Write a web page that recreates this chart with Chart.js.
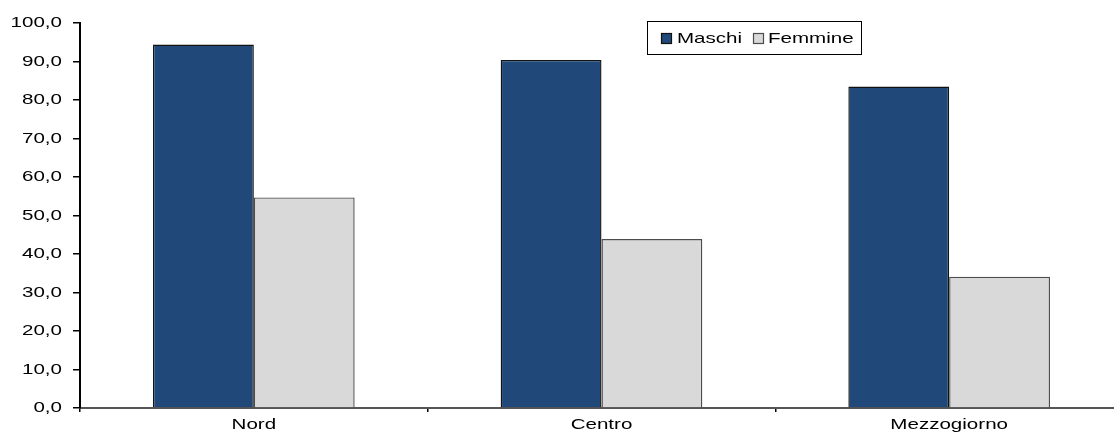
<!DOCTYPE html>
<html>
<head>
<meta charset="utf-8">
<script src="https://cdn.jsdelivr.net/npm/chart.js@4.4.1/dist/chart.umd.min.js"></script>
<style>
  html, body { margin: 0; padding: 0; background: #fff; }
  #wrap { width: 1114px; height: 432px; overflow: hidden; position: relative; }
  #c { display: block; }
</style>
</head>
<body>
<div id="wrap"><canvas id="c" width="1123" height="432"></canvas></div>
<script>
// Ripartizioni territoriali e valori per sesso
const categories = ['Nord', 'Centro', 'Mezzogiorno'];
const maschi = [94.4, 90.4, 83.5];
const femmine = [54.7, 43.9, 34.1];
const seriesNames = ['Maschi', 'Femmine'];
const yTicks = [0, 10, 20, 30, 40, 50, 60, 70, 80, 90, 100];

const FONT = "'Liberation Sans', Arial, sans-serif";
const TEXT_STRETCH = 1.37;

// text is drawn horizontally widened around its anchor point
const canvas = document.getElementById('c');
const ctx2d = canvas.getContext('2d');
const baseFillText = ctx2d.fillText.bind(ctx2d);
ctx2d.fillText = function (text, x, y, maxWidth) {
  this.save();
  this.translate(x, y);
  this.scale(TEXT_STRETCH, 1);
  if (maxWidth !== undefined) baseFillText(text, 0, 0, maxWidth);
  else baseFillText(text, 0, 0);
  this.restore();
};

// boxed legend inside the plot area
const boxLegend = {
  id: 'boxLegend',
  afterDraw(chart) {
    const ctx = chart.ctx;
    const ds = chart.data.datasets;
    ctx.save();
    ctx.lineWidth = 1;
    ctx.strokeStyle = '#000';
    ctx.strokeRect(647.5, 21.5, 214, 33);
    ctx.font = '15px ' + FONT;
    ctx.textBaseline = 'middle';
    const items = [
      { mx: 661, tx: 677 },
      { mx: 753, tx: 768 }
    ];
    items.forEach((it, i) => {
      ctx.fillStyle = ds[i].backgroundColor;
      ctx.fillRect(it.mx + 0.5, 33.5, 10, 10);
      ctx.strokeStyle = ds[i].borderColor;
      ctx.lineWidth = 1.2;
      ctx.strokeRect(it.mx + 0.5, 33.5, 10, 10);
      ctx.fillStyle = '#000';
      ctx.textAlign = 'left';
      ctx.fillText(ds[i].label, it.tx, 38.5);
    });
    ctx.restore();
  }
};

new Chart(canvas, {
  type: 'bar',
  data: {
    labels: categories,
    datasets: [
      {
        label: seriesNames[0],
        data: maschi,
        backgroundColor: '#204878',
        borderColor: '#111111',
        borderWidth: 1.4,
        categoryPercentage: 0.58,
        barPercentage: 1
      },
      {
        label: seriesNames[1],
        data: femmine,
        backgroundColor: '#d9d9d9',
        borderColor: '#4d4d4d',
        borderWidth: 1.4,
        categoryPercentage: 0.58,
        barPercentage: 1
      }
    ]
  },
  options: {
    responsive: false,
    animation: false,
    layout: { padding: { top: 23, left: 0, right: 0, bottom: 0 } },
    plugins: {
      legend: { display: false },
      tooltip: { enabled: false }
    },
    scales: {
      x: {
        offset: true,
        grid: {
          offset: true,
          drawOnChartArea: false,
          drawTicks: true,
          tickLength: 4,
          color: '#000',
          lineWidth: 1.5
        },
        border: { color: '#555', width: 2 },
        ticks: {
          color: '#000',
          padding: 4,
          font: { family: FONT, size: 15 },
          maxRotation: 0
        },
        afterFit(scale) { scale.height = 24; }
      },
      y: {
        min: yTicks[0],
        max: yTicks[yTicks.length - 1],
        afterBuildTicks(scale) { scale.ticks = yTicks.map(v => ({ value: v })); },
        grid: {
          drawOnChartArea: false,
          drawTicks: true,
          tickLength: 7,
          color: '#000',
          lineWidth: 1.5
        },
        border: { color: '#000', width: 2 },
        ticks: {
          color: '#000',
          padding: 11,
          font: { family: FONT, size: 15 },
          callback: v => Number(v).toFixed(1).replace('.', ',')
        },
        afterFit(scale) { scale.width = 80; }
      }
    }
  },
  plugins: [boxLegend]
});
</script>
</body>
</html>
